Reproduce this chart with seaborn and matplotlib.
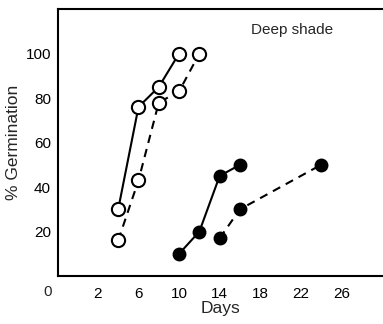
import matplotlib
matplotlib.use("Agg")
import matplotlib.pyplot as plt
import matplotlib.transforms as mtransforms
import seaborn as sns
import pandas as pd

# open circles (solid / dashed) and filled circles (solid / dashed)
open_solid_days = [4, 6, 8, 10]
open_solid_pct = [30, 76, 85, 100]
open_dash_days = [4, 6, 8, 10, 12]
open_dash_pct = [16, 43, 78, 83, 100]
fill_solid_days = [10, 12, 14, 16]
fill_solid_pct = [10, 20, 45, 50]
fill_dash_days = [14, 16, 24]
fill_dash_pct = [17, 30, 50]

x_ticks = [2, 6, 10, 14, 18, 22, 26]
y_ticks = [20, 40, 60, 80, 100]

sns.set_style("white")
plt.rcParams['font.family'] = ['Liberation Sans', 'DejaVu Sans']

fig = plt.figure(figsize=(3.83, 3.24), dpi=100)
ax = fig.add_axes([0.151, 0.148, 0.849, 0.824])

series = [
    (open_solid_days, open_solid_pct, '-', 'white', 9.5),
    (open_dash_days, open_dash_pct, (0, (4, 3)), 'white', 9.5),
    (fill_solid_days, fill_solid_pct, '-', 'black', 8.5),
    (fill_dash_days, fill_dash_pct, (0, (4, 3)), 'black', 8.5),
]
for days, pct, ls, face, ms in series:
    df = pd.DataFrame({'Days': days, 'Pct': pct})
    sns.lineplot(data=df, x='Days', y='Pct', ax=ax, color='black',
                 linestyle=ls, linewidth=1.5, marker='o', markersize=ms,
                 markerfacecolor=face, markeredgecolor='black',
                 markeredgewidth=1.5)

ax.set_xlim(-1.95, 30.1)
ax.set_ylim(0, 120)
ax.set_xticks(x_ticks)
ax.set_yticks(y_ticks)
ax.tick_params(axis='both', direction='in', length=4, width=1.2,
               labelsize=11, colors='black')
ax.tick_params(axis='x', pad=8)
ax.tick_params(axis='y', pad=5)

for side in ['left', 'bottom', 'top']:
    ax.spines[side].set_color('black')
    ax.spines[side].set_linewidth(1.5)
ax.spines['right'].set_visible(False)

# "0" at the corner, left of the origin
trans = mtransforms.blended_transform_factory(ax.transData, ax.transAxes)
ax.text(-3, -0.033, '0', transform=trans, ha='center', va='top',
        fontsize=11, clip_on=False)

ax.set_xlabel('Days', fontsize=12.5, labelpad=0)
ax.set_ylabel('% Germination', fontsize=12.5, labelpad=3)
ax.text(0.595, 0.92, 'Deep shade', transform=ax.transAxes, fontsize=11,
        ha='left', va='center')

fig.savefig('out.png', dpi=100)
